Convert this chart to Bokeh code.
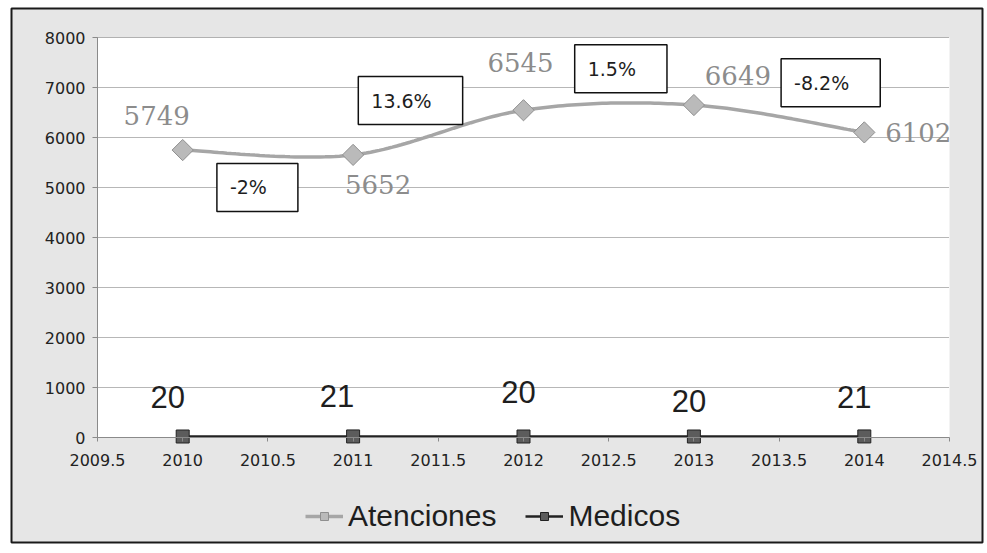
import numpy as np
from bokeh.plotting import figure
from bokeh.models import (ColumnDataSource, FixedTicker, Legend, LegendItem, Range1d,
                          LinearAxis, BoxAnnotation, Grid)
from bokeh.core.properties import value
from bokeh.embed import file_html
from bokeh.resources import INLINE

# ---------------- data ----------------
years = [2010, 2011, 2012, 2013, 2014]
atenciones = [5749, 5652, 6545, 6649, 6102]
medicos = [20, 21, 20, 20, 21]
pct_changes = ["-2%", "13.6%", "1.5%", "-8.2%"]
x_ticks = [2009.5, 2010, 2010.5, 2011, 2011.5, 2012, 2012.5, 2013, 2013.5, 2014, 2014.5]
x_tick_labels = ["2009.5", "2010", "2010.5", "2011", "2011.5", "2012",
                 "2012.5", "2013", "2013.5", "2014", "2014.5"]
y_ticks = [0, 1000, 2000, 3000, 4000, 5000, 6000, 7000, 8000]

# ---------------- label placement (style, screen px) ----------------
aten_lbl_dx = [-26, 25, -3, 44, 54]
aten_lbl_dy = [-35, 30, -48, -30, 0]
med_lbl_dx = [-15, -16, -5, -5, -10]
med_lbl_dy = [-40, -40, -45, -36, -39]
pct_dx = [-51, -80, -34, 2]
pct_dy = [35, -32, -39, -36]

# ---------------- layout (page px) ----------------
W, H = 987, 553
PLOT_L, PLOT_R, PLOT_T, PLOT_B = 97, 949, 37, 437
PANEL_GREY = "#e6e6e6"


def smooth(xs, ys, n=40):
    """Excel-like smoothed line (Catmull-Rom Bezier) through the data points."""
    P = np.column_stack([xs, ys]).astype(float)
    ext = np.vstack([P[0], P, P[-1]])
    out = []
    t = np.linspace(0, 1, n)[:, None]
    for i in range(len(P) - 1):
        p0, p1, p2, p3 = ext[i], ext[i + 1], ext[i + 2], ext[i + 3]
        b1 = p1 + (p2 - p0) / 6.0
        b2 = p2 - (p3 - p1) / 6.0
        seg = ((1 - t) ** 3) * p1 + 3 * ((1 - t) ** 2) * t * b1 + 3 * (1 - t) * t ** 2 * b2 + t ** 3 * p2
        out.append(seg if i == 0 else seg[1:])
    out = np.vstack(out)
    return out[:, 0], out[:, 1]


x0, x1 = x_ticks[0], x_ticks[-1]
y0, y1 = y_ticks[0], y_ticks[-1]
ux = (x1 - x0) / (PLOT_R - PLOT_L)   # data units per px
uy = (y1 - y0) / (PLOT_B - PLOT_T)

# the frame covers the whole canvas; the plot area is drawn inside it
p = figure(width=W, height=H, output_backend="svg", toolbar_location=None,
           x_range=Range1d(x0 - PLOT_L * ux, x1 + (W - PLOT_R) * ux),
           y_range=Range1d(y0 - (H - PLOT_B) * uy, y1 + PLOT_T * uy),
           x_axis_location=None, y_axis_location=None,
           min_border_left=0, min_border_right=0, min_border_top=0, min_border_bottom=0)
p.background_fill_color = "white"
p.border_fill_color = "white"
p.outline_line_color = None
# drop any default grids; a bounded one is added below
p.center = [r for r in p.center if not isinstance(r, Grid)]

# grey chart panel with dark border, then the white plot area
p.add_layout(BoxAnnotation(left=11, right=982, top=11, bottom=545,
                           left_units="screen", right_units="screen",
                           top_units="screen", bottom_units="screen",
                           fill_color=PANEL_GREY, fill_alpha=1.0,
                           line_color="#1a1a1a", line_alpha=1.0, line_width=2,
                           level="image"))
p.add_layout(BoxAnnotation(left=x0, right=x1, bottom=y0, top=y1,
                           fill_color="white", fill_alpha=1.0,
                           line_color=None, level="image"))

grid_kw = dict(dimension=1, ticker=FixedTicker(ticks=y_ticks),
               grid_line_color="#6e6e6e", grid_line_dash="1 1", grid_line_width=1)
has_cross = "cross_bounds" in Grid.properties()
if has_cross:
    grid_kw["cross_bounds"] = (x0, x1)
ygrid = Grid(**grid_kw)
p.add_layout(ygrid)

if not has_cross:
    # cover the grid lines that run past the plot area (left and right margins)
    p.add_layout(BoxAnnotation(left=13, right=x0, top=13, bottom=543,
                               left_units="screen", top_units="screen", bottom_units="screen",
                               fill_color=PANEL_GREY, fill_alpha=1.0, line_color=None,
                               level="underlay"))
    p.add_layout(BoxAnnotation(left=x1, right=980, top=13, bottom=543,
                               right_units="screen", top_units="screen", bottom_units="screen",
                               fill_color=PANEL_GREY, fill_alpha=1.0, line_color=None,
                               level="underlay"))

xaxis = LinearAxis(fixed_location=y0, ticker=FixedTicker(ticks=x_ticks), bounds=(x0, x1))
xaxis.major_label_overrides = {float(t): s for t, s in zip(x_ticks, x_tick_labels)}
p.add_layout(xaxis, "below")
yaxis = LinearAxis(fixed_location=x0, ticker=FixedTicker(ticks=y_ticks), bounds=(y0, y1))
p.add_layout(yaxis, "left")

for ax in (xaxis, yaxis):
    ax.axis_line_color = "#8a8a8a"
    ax.axis_line_width = 1
    ax.major_tick_line_color = "#8a8a8a"
    ax.major_tick_in = 0
    ax.minor_tick_line_color = None
    ax.major_label_text_font = "DejaVu Sans"
    ax.major_label_text_font_size = "16px"
    ax.major_label_text_color = "#222222"
yaxis.major_tick_out = 5
yaxis.major_label_standoff = 7
xaxis.major_tick_out = 4
xaxis.major_label_standoff = 12

# Atenciones: smoothed line with diamond markers
sx, sy = smooth(years, atenciones)
l1 = p.line(sx, sy, line_color="#a6a6a6", line_width=3.5)
m1 = p.scatter(years, atenciones, marker="square", angle=np.pi / 4, size=15,
               fill_color="#bababa", line_color="#8f8f8f", line_width=1)

# Medicos: straight line with square markers
l2 = p.line(years, medicos, line_color="#222222", line_width=2.5)
m2 = p.scatter(years, medicos, marker="square", size=13,
               fill_color="#5c5c5c", line_color="#222222", line_width=1)

# value labels
aten_src = ColumnDataSource(dict(x=years, y=atenciones, t=[str(v) for v in atenciones],
                                 dx=aten_lbl_dx, dy=aten_lbl_dy))
p.text(x="x", y="y", text="t", x_offset="dx", y_offset="dy", source=aten_src,
       text_align="center", text_baseline="middle", text_font=value("DejaVu Serif"),
       text_font_size="26px", text_color="#8c8c8c")

med_src = ColumnDataSource(dict(x=years, y=medicos, t=[str(v) for v in medicos],
                                dx=med_lbl_dx, dy=med_lbl_dy))
p.text(x="x", y="y", text="t", x_offset="dx", y_offset="dy", source=med_src,
       text_align="center", text_baseline="middle",
       text_font=value("Liberation Sans"),
       text_font_size="31px", text_color="#1e1e1e")

# percent change boxes, anchored between consecutive years
mid_x = [(years[i] + years[i + 1]) / 2 for i in range(len(years) - 1)]
mid_y = [(atenciones[i] + atenciones[i + 1]) / 2 for i in range(len(years) - 1)]
pct_src = ColumnDataSource(dict(x=mid_x, y=mid_y, t=pct_changes, dx=pct_dx, dy=pct_dy))
p.text(x="x", y="y", text="t", x_offset="dx", y_offset="dy", source=pct_src,
       text_align="left", text_baseline="middle", text_font=value("DejaVu Sans"),
       text_font_size="19px", text_color="#1e1e1e",
       background_fill_color="white", border_line_color="#111111", border_line_width=1.5,
       padding=dict(left=13, right=31, top=13, bottom=13))

legend = Legend(items=[LegendItem(label="Atenciones", renderers=[l1, m1]),
                       LegendItem(label="Medicos", renderers=[l2, m2])],
                orientation="horizontal", location=(305, 20),
                label_text_font="Liberation Sans", label_text_font_size="30px",
                label_text_color="#1e1e1e", border_line_color=None,
                background_fill_alpha=0, glyph_width=38, glyph_height=20,
                spacing=29, label_standoff=5, margin=0, padding=5)
p.add_layout(legend, "center")

open("out.html", "w").write(file_html(p, INLINE))
